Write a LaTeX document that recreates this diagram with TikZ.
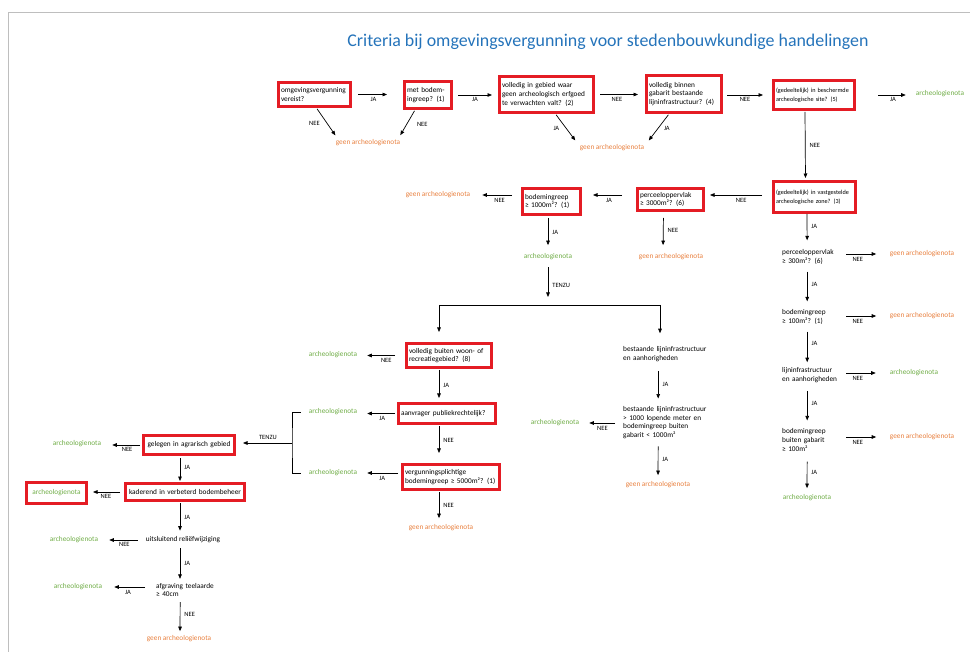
\documentclass[tikz,border=0pt]{standalone}
\usepackage{fontspec}
\setmainfont{Carlito}
\usetikzlibrary{arrows.meta}
\definecolor{boxred}{RGB}{228,28,36}
\definecolor{geenorange}{RGB}{232,128,63}
\definecolor{archgreen}{RGB}{112,173,71}
\definecolor{titleblue}{RGB}{36,115,186}
\definecolor{framegray}{RGB}{190,190,190}
\newcommand{\bodyfnt}{\fontsize{7.3}{8.8}\selectfont\hyphenpenalty=10000 }
\newcommand{\smallfnt}{\fontsize{6.2}{8.8}\selectfont\hyphenpenalty=10000 }
\newcommand{\labfnt}{\fontsize{6.5}{7}\selectfont}
\begin{document}
\begin{tikzpicture}[x=1pt,y=-1pt,
  box/.style={draw=boxred, line width=3pt, align=left, inner xsep=2.5pt, inner ysep=1pt, font=\bodyfnt},
  txt/.style={align=left, inner sep=0pt, font=\bodyfnt},
  geen/.style={text=geenorange, font=\bodyfnt, inner sep=1pt},
  arch/.style={text=archgreen, font=\bodyfnt, inner sep=1pt},
  lab/.style={font=\labfnt, inner sep=1pt},
  arr/.style={-{Triangle[length=4.5pt,width=3.6pt]}, line width=0.7pt},
  plain/.style={line width=0.7pt},
  title/.style={text=titleblue, font=\fontsize{17.9}{20}\selectfont, inner sep=0pt}]
\useasboundingbox (0,0) rectangle (970,652);
\draw[framegray, line width=0.8pt] (8,652) -- (8,12) -- (970,12);

\node[title] (title) at (608,42) {Criteria bij omgevingsvergunning voor stedenbouwkundige handelingen};

% red boxes
\node[box, text width=67pt, minimum height=24pt] (b1) at (314.5,94.5) {omgevingsvergunning\\vereist?};
\node[box, text width=42pt, minimum height=27pt] (b2) at (428,95) {met bodem-\\ingreep? (1)};
\node[box, text width=89pt, minimum height=36pt] (b3) at (546.5,94.5) {volledig in gebied waar\\geen archeologisch erfgoed\\te verwachten valt? (2)};
\node[box, text width=70pt, minimum height=37pt] (b4) at (684,94) {volledig binnen\\gabarit bestaande\\lijninfrastructuur? (4)};
\node[box, text width=76pt, minimum height=29pt, font=\smallfnt] (b5) at (814,95) {(gedeeltelijk) in beschermde\\archeologische site? (5)};
\node[box, text width=77pt, minimum height=31pt, font=\smallfnt] (b6) at (814.5,197) {(gedeeltelijk) in vastgestelde\\archeologische zone? (3)};
\node[box, text width=61pt, minimum height=22pt] (b7) at (670.5,199.5) {perceeloppervlak\\≥ 3000m²? (6)};
\node[box, text width=53pt, minimum height=26pt] (b8) at (551.5,201.5) {bodemingreep\\≥ 1000m²? (1)};
\node[box, text width=80pt, minimum height=24pt] (b9) at (449,355.5) {volledig buiten woon- of\\recreatiegebied? (8)};
\node[box, text width=92pt, minimum height=20pt] (b10) at (447,413.5) {aanvrager publiekrechtelijk?};
\node[box, text width=92pt, minimum height=25pt] (b11) at (451,477) {vergunningsplichtige\\bodemingreep ≥ 5000m²? (1)};
\node[box, text width=86pt, minimum height=19pt, align=center] (b12) at (189,445) {gelegen in agrarisch gebied};
\node[box, text width=114pt, minimum height=17pt, align=center] (b13) at (185,492) {kaderend in verbeterd bodembeheer};
\node[box, text width=55pt, minimum height=21pt, align=center, text=archgreen] (b14) at (56.5,493) {archeologienota};

% outcome texts
\node[geen] (g1) at (368,143) {geen archeologienota};
\node[geen] (g2) at (612,148) {geen archeologienota};
\node[arch] (a1) at (940,94) {archeologienota};
\node[geen] (g3) at (438,195) {geen archeologienota};
\node[arch] (a2) at (548,257) {archeologienota};
\node[geen] (g4) at (671,257) {geen archeologienota};

% right column
\node[txt, text width=58pt, anchor=west] (t1) at (782,257) {perceeloppervlak\\≥ 300m²? (6)};
\node[geen] (g5) at (922,254) {geen archeologienota};
\node[txt, text width=58pt, anchor=west] (t2) at (782,317) {bodemingreep\\≥ 100m²? (1)};
\node[geen] (g6) at (922,316) {geen archeologienota};
\node[txt, text width=58pt, anchor=west] (t3) at (782,375) {lijninfrastructuur\\en aanhorigheden};
\node[arch] (a3) at (914,373) {archeologienota};
\node[txt, text width=58pt, anchor=west] (t4) at (782,440) {bodemingreep\\buiten gabarit\\≥ 100m²};
\node[geen] (g7) at (922,437) {geen archeologienota};
\node[arch] (a4) at (807,498) {archeologienota};

% middle column
\node[arch] (a5) at (333,355) {archeologienota};
\node[arch] (a6) at (333,412) {archeologienota};
\node[arch] (a7) at (333,473) {archeologienota};
\node[geen] (g8) at (441,528) {geen archeologienota};
\node[txt, text width=85pt, anchor=west] (m1) at (623,354) {bestaande lijninfrastructuur\\en aanhorigheden};
\node[txt, text width=85pt, anchor=west, font=\fontsize{7.3}{8.4}\selectfont] (m2) at (623,422.5) {bestaande lijninfrastructuur\\> 1000 lopende meter en\\bodemingreep buiten\\gabarit < 1000m²};
\node[arch] (a8) at (555,423) {archeologienota};
\node[geen] (g9) at (658,485) {geen archeologienota};

% left column
\node[arch] (a9) at (77,444) {archeologienota};
\node[txt] (t5) at (183,540) {uitsluitend reliëfwijziging};
\node[arch] (a10) at (74,540) {archeologienota};
\node[txt, text width=62pt, anchor=west] (t6) at (156,590) {afgraving teelaarde\\≥ 40cm};
\node[arch] (a11) at (78,587) {archeologienota};
\node[geen] (g10) at (179,639) {geen archeologienota};

% top row connectors
\draw[arr, shorten <=6pt, shorten >=16pt] (b1.east) -- (b1.east -| b2.west) node[lab, below=1pt, pos=0.42] {JA};
\draw[arr, shorten <=5pt, shorten >=6pt] (b2.east) -- (b2.east -| b3.west) node[lab, below=1pt, pos=0.49] {JA};
\draw[arr, shorten <=5pt, shorten >=7pt] (b3.east) -- (b3.east -| b4.west) node[lab, below=1pt, pos=0.44] {NEE};
\draw[arr, shorten <=4pt, shorten >=9pt] (b5.west -| b4.east) -- (b5.west) node[lab, below=1pt, pos=0.45] {NEE};
\draw[arr, shorten <=22pt, shorten >=9pt] (b5.east) -- (b5.east -| a1.west) node[lab, below=1pt, pos=0.63] {JA};
\draw[arr, shorten <=1pt, shorten >=4pt] ([xshift=2pt]b1.south) -- ([xshift=3pt]g1.north west) node[lab, pos=0.5, left=6pt] {NEE};
\draw[arr, shorten <=1pt, shorten >=4pt] ([xshift=-13pt]b2.south) -- ([xshift=-3pt]g1.north east) node[lab, pos=0.5, right=9pt] {NEE};
\draw[arr, shorten <=1pt, shorten >=4pt] ([xshift=9pt]b3.south) -- ([xshift=-1pt]g2.north west) node[lab, pos=0.5, left=6pt] {JA};
\draw[arr, shorten <=1pt, shorten >=4pt] ([xshift=-15pt]b4.south) -- ([xshift=1pt]g2.north east) node[lab, pos=0.5, right=5pt] {JA};
\draw[arr, shorten <=1pt, shorten >=2pt] ([xshift=-9pt]b5.south) -- ([xshift=-9pt]b6.north) node[lab, pos=0.5, right=3pt] {NEE};

% second row
\draw[arr, shorten <=10pt, shorten >=5pt] (b6.west |- g3.east) -- (b7.east |- g3.east) node[lab, below=2pt, pos=0.46] {NEE};
\draw[arr, shorten <=14pt, shorten >=11pt] (b7.west |- g3.east) -- (b8.east |- g3.east) node[lab, below=2pt, pos=0.5] {JA};
\draw[arr, shorten <=9pt, shorten >=11pt] (b8.west |- g3.east) -- (g3.east) node[lab, below=2pt, pos=0.43] {NEE};
\draw[arr, shorten <=2pt, shorten >=7.5pt] (b8.south -| a2.north) -- (a2.north) node[lab, right=3pt, pos=0.45] {JA};
\draw[arr, shorten <=6pt, shorten >=7.5pt] ([xshift=-7pt]b7.south) -- ([xshift=-8pt]g4.north) node[lab, right=3pt, pos=0.45] {NEE};

% split
\coordinate (sp) at (548,305);
\coordinate (spl) at (439,305);
\coordinate (spr) at (660,305);
\draw[arr, shorten <=6pt, shorten >=8pt] (a2.south) -- (sp) node[lab, right=3pt, pos=0.55] {TENZU};
\draw[plain] (spl) -- (spr);
\draw[arr, shorten >=10pt] (spl) -- (spl |- b9.north);
\draw[arr, shorten >=13pt] (spr) -- (spr |- m1.north);

% middle column
\draw[arr, shorten <=10pt, shorten >=9pt] (b9.west) -- (b9.west -| a5.east) node[lab, below=1pt, pos=0.4] {NEE};
\draw[arr, shorten <=1pt, shorten >=4pt] ([xshift=-10pt]b9.south) -- ([xshift=-8pt]b10.north) node[lab, right=3pt, pos=0.5] {JA};
\draw[arr, shorten <=2pt, shorten >=9pt] (b10.west) -- (b10.west -| a6.east) node[lab, below=1pt, pos=0.38] {JA};
\draw[arr, shorten <=1pt, shorten >=10pt] ([xshift=-8pt]b10.south) -- ([xshift=-12pt]b11.north) node[lab, right=3pt, pos=0.4] {NEE};
\draw[arr, shorten <=3pt, shorten >=9pt] (b11.west |- a7.east) -- (a7.east) node[lab, below=2pt, pos=0.44] {JA};
\draw[arr, shorten <=1pt, shorten >=5.5pt] ([xshift=-12pt]b11.south) -- ([xshift=-2pt]g8.north) node[lab, right=3pt, pos=0.45] {NEE};

% bracket
\coordinate (br) at (292,443);
\draw[plain] ([xshift=-7pt]a6.west) -| (br) |- ([xshift=-7pt]a7.west);
\draw[arr, shorten >=7pt] (br) -- (b12.east |- br) node[lab, above=2pt, pos=0.43] {TENZU};

% left column
\draw[arr, shorten <=2pt, shorten >=10pt] (b12.west) -- (b12.west -| a9.east) node[lab, below=1pt, pos=0.375] {NEE};
\draw[arr, shorten <=2pt, shorten >=1pt] ([xshift=-9pt]b12.south) -- ([xshift=-5pt]b13.north) node[lab, right=3pt, pos=0.45] {JA};
\draw[arr, shorten <=4pt, shorten >=5pt] (b13.west) -- (b13.west -| b14.east) node[lab, below=1pt, pos=0.5] {NEE};
\draw[arr, shorten <=1pt, shorten >=6pt] ([xshift=-5pt]b13.south) -- ([xshift=-3pt]t5.north) node[lab, right=3pt, pos=0.45] {JA};
\draw[arr, shorten <=8pt, shorten >=10pt] (t5.west) -- (t5.west -| a10.east) node[lab, below=1pt, pos=0.46] {NEE};
\draw[arr, shorten <=5pt, shorten >=4pt] ([xshift=-3pt]t5.south) -- ([xshift=-3pt]t5.south |- t6.north) node[lab, right=3pt, pos=0.5] {JA};
\draw[arr, shorten <=11pt, shorten >=11pt] (t6.west |- a11.east) -- (a11.east) node[lab, below=2pt, pos=0.53] {JA};
\draw[arr, shorten <=5pt, shorten >=3.5pt] ([xshift=-7pt]t6.south) -- ([xshift=1pt]g10.north) node[lab, right=3pt, pos=0.45] {NEE};

% right column
\draw[arr, shorten >=9pt] ([xshift=-7.5pt]b6.south) -- ([xshift=-4pt]t1.north) node[lab, right=3pt, pos=0.35] {JA};
\draw[arr, shorten <=6pt, shorten >=12.5pt] ([yshift=3pt]t1.east) -- (g5.west) node[lab, below=2pt, pos=0.36] {NEE};
\draw[arr, shorten <=7pt, shorten >=8pt] ([xshift=-4pt]t1.south) -- ([xshift=-4pt]t2.north) node[lab, right=3pt, pos=0.45] {JA};
\draw[arr, shorten <=6pt, shorten >=12.5pt] ([yshift=1pt]t2.east) -- (g6.west) node[lab, below=2pt, pos=0.36] {NEE};
\draw[arr, shorten <=7pt, shorten >=5pt] ([xshift=-4pt]t2.south) -- ([xshift=-4pt]t3.north) node[lab, right=3pt, pos=0.45] {JA};
\draw[arr, shorten <=6pt, shorten >=13pt] ([yshift=2pt]t3.east) -- (a3.west) node[lab, below=2pt, pos=0.36] {NEE};
\draw[arr, shorten <=8pt, shorten >=8pt] ([xshift=-4pt]t3.south) -- ([xshift=-4pt]t4.north) node[lab, right=3pt, pos=0.45] {JA};
\draw[arr, shorten <=6pt, shorten >=12.5pt] ([yshift=3pt]t4.east) -- (g7.west) node[lab, below=2pt, pos=0.36] {NEE};
\draw[arr, shorten <=10pt, shorten >=5.5pt] ([xshift=-4pt]t4.south) -- (a4.north) node[lab, right=3pt, pos=0.5] {JA};

% middle-right column
\draw[arr, shorten <=9pt, shorten >=8pt] ([xshift=-7.5pt]m1.south) -- ([xshift=-7.5pt]m2.north) node[lab, right=3pt, pos=0.5] {JA};
\draw[arr, shorten <=8pt, shorten >=9pt] (m2.west |- a8.east) -- (a8.east) node[lab, below=2pt, pos=0.48] {NEE};
\draw[arr, shorten <=8pt, shorten >=5.5pt] ([xshift=-7.5pt]m2.south) -- (g9.north) node[lab, right=3pt, pos=0.5] {JA};
\end{tikzpicture}
\end{document}
